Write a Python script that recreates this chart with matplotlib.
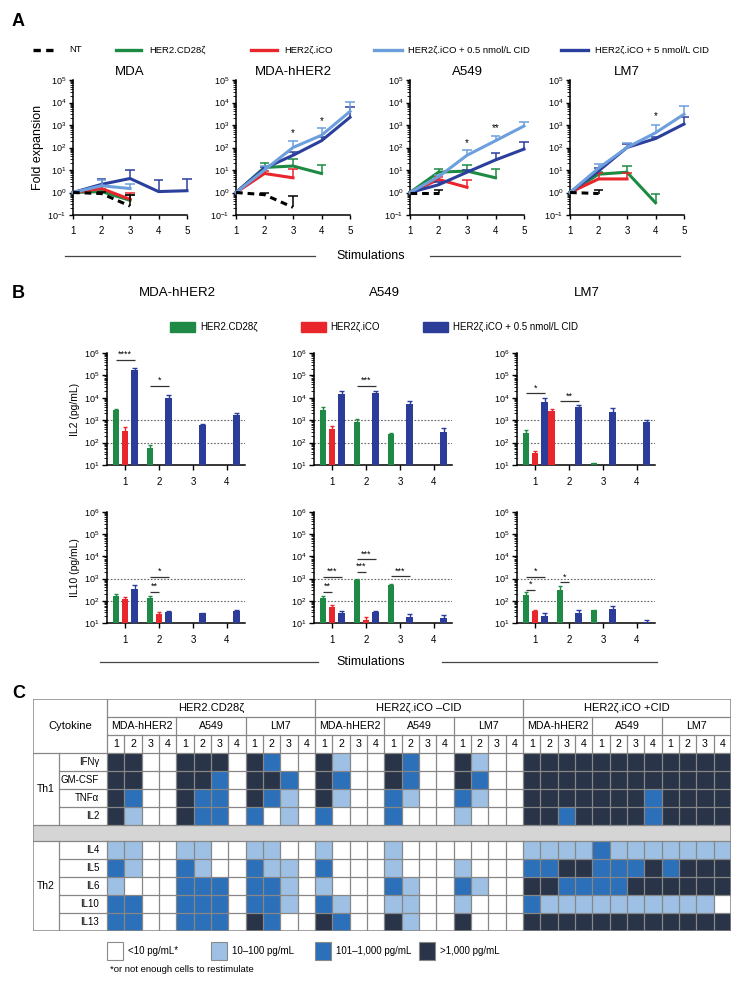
import numpy as np
import matplotlib
matplotlib.use("Agg")
import matplotlib.pyplot as plt
from matplotlib.lines import Line2D
from matplotlib.patches import Rectangle
from matplotlib.ticker import LogLocator, NullFormatter

plt.rcParams['font.family'] = ['Liberation Sans', 'DejaVu Sans']
plt.rcParams['mathtext.fontset'] = 'custom'
plt.rcParams['mathtext.rm'] = 'Liberation Sans'
plt.rcParams['axes.linewidth'] = 1.1

W, H = 742, 984


def fx(px):
    return px / W


def fy(py):
    return 1 - py / H


# ---------------- panel A : fold expansion ----------------
cell_lines_a = ["MDA", "MDA-hHER2", "A549", "LM7"]
series_a = ["NT", "HER2.CD28ζ", "HER2ζ.iCO", "HER2ζ.iCO + 0.5 nmol/L CID", "HER2ζ.iCO + 5 nmol/L CID"]
colors_a = ["black", "#1d8a43", "#e8262b", "#6c9fdc", "#2b3f9c"]

nt_mean = {"MDA": [1, 0.9, 0.25], "MDA-hHER2": [1, 0.8, 0.22], "A549": [1, 1.0], "LM7": [1, 0.9]}
nt_top = {"MDA": [None, 1.1, 0.8], "MDA-hHER2": [None, 1.0, 0.7], "A549": [None, 1.3], "LM7": [None, 1.3]}
cd28_mean = {"MDA": [1, 1.1, 0.45], "MDA-hHER2": [1, 13, 15, 7], "A549": [1, 8, 9, 4.5], "LM7": [1, 6.5, 8, 0.35]}
cd28_top = {"MDA": [None, 1.5, 0.8], "MDA-hHER2": [None, 20, 30, 16], "A549": [None, 11, 17, 11], "LM7": [None, 8, 15, 0.9]}
ico_mean = {"MDA": [1, 1.5, 0.5], "MDA-hHER2": [1, 7, 4.5], "A549": [1, 3.8, 1.7], "LM7": [1, 4, 4]}
ico_top = {"MDA": [None, 2, 1.0], "MDA-hHER2": [None, 9, 11], "A549": [None, 5, 3.5], "LM7": [None, 7, 7]}
cid05_mean = {"MDA": [1, 2, 1.5], "MDA-hHER2": [1, 10, 100, 350, 4000], "A549": [1, 5, 45, 200, 900],
              "LM7": [1, 12, 100, 450, 3000]}
cid05_top = {"MDA": [None, 3.5, 2.5], "MDA-hHER2": [None, 15, 200, 700, 11000], "A549": [None, 6, 75, 330, 1300],
             "LM7": [None, 18, 160, 1000, 7000]}
cid5_mean = {"MDA": [1, 2.3, 4.2, 1.1, 1.2], "MDA-hHER2": [1, 12, 45, 200, 2200], "A549": [1, 2.2, 8, 28, 85],
             "LM7": [1, 9, 100, 250, 1100]}
cid5_top = {"MDA": [None, 4, 10, 3.5, 4], "MDA-hHER2": [None, 14, 60, 280, 6000], "A549": [None, 3, 10, 55, 170],
            "LM7": [None, 12, 150, 300, 2300]}
stars_a = {"MDA": [], "MDA-hHER2": [(3, 250, "*"), (4, 900, "*")], "A549": [(3, 95, "*"), (4, 430, "**")],
           "LM7": [(4, 1500, "*")]}

# ---------------- panel B : cytokines ----------------
cell_lines_b = ["MDA-hHER2", "A549", "LM7"]
series_b = ["HER2.CD28ζ", "HER2ζ.iCO", "HER2ζ.iCO + 0.5 nmol/L CID"]
colors_b = ["#1f8a45", "#e8262b", "#2b3d99"]
stim_b = [1, 2, 3, 4]

il2_cd28 = {"MDA-hHER2": [3000, 55, None, None], "A549": [3000, 850, 250, None], "LM7": [270, None, 12, None]}
il2_cd28_top = {"MDA-hHER2": [3300, 80, None, None], "A549": [4000, 1100, 270, None], "LM7": [370, None, 12.5, None]}
il2_ico = {"MDA-hHER2": [320, None, None, None], "A549": [420, None, None, None], "LM7": [35, None, None, None]}
il2_ico_top = {"MDA-hHER2": [480, None, None, None], "A549": [550, None, None, None], "LM7": [42, None, None, None]}
il2_cid = {"MDA-hHER2": [180000, 10000, 600, 1700], "A549": [15000, 17000, 5500, 300], "LM7": [6500, 3800, 2300, 850]}
il2_cid_top = {"MDA-hHER2": [210000, 13000, 650, 2200], "A549": [20000, 21000, 7000, 450],
               "LM7": [9500, 4800, 3600, 1000]}
lm7_il2_extra_red = [2600, None, None, None]
lm7_il2_extra_red_top = [3200, None, None, None]

il10_cd28 = {"MDA-hHER2": [170, 130, None, None], "A549": [140, 850, 500, None], "LM7": [180, 300, 37, None]}
il10_cd28_top = {"MDA-hHER2": [210, 165, None, None], "A549": [160, 1000, 560, None], "LM7": [240, 450, 38, None]}
il10_ico = {"MDA-hHER2": [115, 25, None, None], "A549": [50, 14, None, None], "LM7": [33, None, None, None]}
il10_ico_top = {"MDA-hHER2": [145, 30, None, None], "A549": [62, 18, None, None], "LM7": [38, None, None, None]}
il10_cid = {"MDA-hHER2": [350, 32, 28, 35], "A549": [28, 30, 18, 16], "LM7": [20, 27, 42, 11]}
il10_cid_top = {"MDA-hHER2": [500, 34, 29, 37], "A549": [35, 35, 25, 22], "LM7": [28, 38, 60, 14]}

# (stimulation, from series, to series, height, label)
il2_sig = {"MDA-hHER2": [(1, 0, 2, 4.9e5, "****"), (2, 0, 2, 3.4e4, "*")],
           "A549": [(2, 0, 2, 3.4e4, "***")],
           "LM7": [(1, 0, 2, 1.6e4, "*"), (2, 0, 2, 7e3, "**")]}
il10_sig = {"MDA-hHER2": [(2, 0, 2, 1.2e3, "*"), (2, 0, 1, 250, "**")],
            "A549": [(1, 0, 2, 1.2e3, "***"), (1, 0, 1, 250, "**"), (2, 0, 2, 7.6e3, "***"),
                     (2, 0, 1, 2000, "***"), (3, 0, 2, 1.3e3, "***")],
            "LM7": [(1, 0, 2, 1.2e3, "*"), (1, 0, 1, 310, "*"), (2, 0, 1, 700, "*")]}

# ---------------- panel C : heat map ----------------
groups_c = ["HER2.CD28ζ", "HER2ζ.iCO –CID", "HER2ζ.iCO +CID"]
targets_c = ["MDA-hHER2", "A549", "LM7"]
cytokines = ["IFNγ", "GM-CSF", "TNFα", "IL2", "IL4", "IL5", "IL6", "IL10", "IL13"]
# 0: <10, 1: 10-100, 2: 101-1000, 3: >1000 ; 12 columns = 3 targets x 4 stimulations
cd28_levels = ["330033303200", "330033203320", "320032203210", "310032202010",
               "110011001100", "210021002110", "100022202210", "220022202210", "220022203200"]
ico_levels = ["310032003100", "320032003200", "310021002100", "200020001000",
              "100010000000", "200010001000", "100021002100", "210011001000", "320031003000"]
cid_levels = ["333333333333", "333333333333", "333333323333", "332333323333",
              "111121111111", "223322232333", "332222333333", "211111111110", "333333333333"]
level_colors = ["white", "#9dc0e4", "#2b70b9", "#2a3448"]
level_labels = ["<10 pg/mL*", "10–100 pg/mL", "101–1,000 pg/mL", ">1,000 pg/mL"]

fig = plt.figure(figsize=(W / 100, H / 100), dpi=100)

# ---------- panel A ----------
a_lefts = [73, 236, 410, 570]
a_means = [nt_mean, cd28_mean, ico_mean, cid05_mean, cid5_mean]
a_tops = [nt_top, cd28_top, ico_top, cid05_top, cid5_top]
draw_order = [1, 2, 4, 3, 0]
for i, cl in enumerate(cell_lines_a):
    ax = fig.add_axes([fx(a_lefts[i]), fy(215), fx(114), 135 / H])
    for s in draw_order:
        m = a_means[s][cl]
        t = a_tops[s][cl]
        x = np.arange(1, len(m) + 1)
        ls = (0, (2.2, 1.6)) if s == 0 else '-'
        ax.plot(x, m, color=colors_a[s], lw=2.2, ls=ls, clip_on=False, zorder=3)
        for xi, mi, ti in zip(x, m, t):
            if ti is None:
                continue
            ax.vlines(xi, mi, ti, color=colors_a[s], lw=1.1, clip_on=False, zorder=3)
            ax.hlines(ti, xi - 0.16, xi + 0.16, color=colors_a[s], lw=1.1, clip_on=False, zorder=3)
    for xs, ys, lab in stars_a[cl]:
        ax.text(xs, ys, lab, ha='center', va='bottom', fontsize=7)
    ax.set_yscale('log')
    ax.set_ylim(0.1, 1e5)
    ax.set_xlim(1, 5)
    ax.set_xticks([1, 2, 3, 4, 5])
    ax.yaxis.set_major_locator(LogLocator(base=10, numticks=10))
    ax.yaxis.set_minor_locator(LogLocator(base=10, subs=np.arange(2, 10), numticks=20))
    ax.yaxis.set_minor_formatter(NullFormatter())
    ax.tick_params(axis='both', labelsize=6.5, length=3, width=1, pad=2)
    ax.tick_params(axis='x', labelsize=7, pad=5)
    ax.tick_params(axis='y', which='minor', length=2, width=0.6)
    ax.spines['top'].set_visible(False)
    ax.spines['right'].set_visible(False)
    fig.text(fx(a_lefts[i] + 57), fy(72), cl, ha='center', va='center', fontsize=9.5)
    if i == 0:
        ax.set_ylabel("Fold expansion", fontsize=9, labelpad=2)

# legend A
leg_x = [(33, 53, 69), (116, 141, 149), (251, 277, 284), (374, 402, 408), (561, 588, 595)]
for s, (x0, x1, xt) in enumerate(leg_x):
    ls = (0, (2.2, 1.6)) if s == 0 else '-'
    fig.add_artist(Line2D([fx(x0), fx(x1)], [fy(50), fy(50)], color=colors_a[s], lw=2.4, ls=ls))
    fig.text(fx(xt), fy(50), series_a[s], fontsize=6.8, va='center', ha='left')

fig.text(fx(12), fy(22), "A", fontsize=13, fontweight='bold', va='center')
fig.text(fx(371), fy(256), "Stimulations", fontsize=9, ha='center', va='center')
fig.add_artist(Line2D([fx(65), fx(315)], [fy(256), fy(256)], color='#444444', lw=0.9))
fig.add_artist(Line2D([fx(430), fx(680)], [fy(256), fy(256)], color='#444444', lw=0.9))

# ---------- panel B ----------
fig.text(fx(12), fy(293), "B", fontsize=13, fontweight='bold', va='center')
b_lefts = [107, 314, 517]
offsets = [-0.27, 0.0, 0.28]
bar_w = 0.19


def draw_bars(ax, cl, vals, tops, sig, ylab):
    for s in range(3):
        v = vals[s][cl]
        t = tops[s][cl]
        for xi, vi, ti in zip(stim_b, v, t):
            if vi is None:
                continue
            xb = xi + offsets[s]
            ax.bar(xb, vi - 10, bottom=10, width=bar_w, color=colors_b[s], zorder=3)
            if ti is not None and ti > vi:
                ax.vlines(xb, vi, ti, color=colors_b[s], lw=1, zorder=3)
                ax.hlines(ti, xb - 0.06, xb + 0.06, color=colors_b[s], lw=1, zorder=3)
    for st, a, b, yv, lab in sig:
        ax.hlines(yv, st + offsets[a], st + offsets[b], color='#333333', lw=0.9)
        ax.text((2 * st + offsets[a] + offsets[b]) / 2, yv * 1.08, lab, ha='center', va='bottom',
                fontsize=6.5)
    ax.axhline(100, color='#666666', lw=0.8, ls=(0, (1.5, 1.5)), zorder=1)
    ax.axhline(1000, color='#666666', lw=0.8, ls=(0, (1.5, 1.5)), zorder=1)
    ax.set_yscale('log')
    ax.set_ylim(10, 1e6)
    ax.set_xlim(0.47, 4.53)
    ax.set_xticks(stim_b)
    ax.yaxis.set_major_locator(LogLocator(base=10, numticks=10))
    ax.yaxis.set_minor_locator(LogLocator(base=10, subs=np.arange(2, 10), numticks=20))
    ax.yaxis.set_minor_formatter(NullFormatter())
    ax.tick_params(axis='both', labelsize=6.5, length=3.5, width=1, pad=2)
    ax.tick_params(axis='x', labelsize=7, pad=5)
    ax.tick_params(axis='y', which='minor', length=2, width=0.6)
    ax.spines['top'].set_visible(False)
    ax.spines['right'].set_visible(False)
    if ylab:
        ax.set_ylabel(ylab, fontsize=7.5, labelpad=3)


for i, cl in enumerate(cell_lines_b):
    ax2 = fig.add_axes([fx(b_lefts[i]), fy(465), fx(138), 112 / H])
    draw_bars(ax2, cl, [il2_cd28, il2_ico, il2_cid], [il2_cd28_top, il2_ico_top, il2_cid_top],
              il2_sig[cl], "IL2 (pg/mL)" if i == 0 else None)
    if cl == "LM7":
        for xi, vi, ti in zip(stim_b, lm7_il2_extra_red, lm7_il2_extra_red_top):
            if vi is None:
                continue
            ax2.bar(xi + 0.49, vi - 10, bottom=10, width=bar_w, color=colors_b[1], zorder=3)
            ax2.vlines(xi + 0.49, vi, ti, color=colors_b[1], lw=1, zorder=3)
            ax2.hlines(ti, xi + 0.43, xi + 0.55, color=colors_b[1], lw=1, zorder=3)
    ax10 = fig.add_axes([fx(b_lefts[i]), fy(623), fx(138), 111 / H])
    draw_bars(ax10, cl, [il10_cd28, il10_ico, il10_cid], [il10_cd28_top, il10_ico_top, il10_cid_top],
              il10_sig[cl], "IL10 (pg/mL)" if i == 0 else None)
    fig.text(fx(b_lefts[i] + 70), fy(293), cl, ha='center', va='center', fontsize=9.5)

leg_b = [(170, 200), (301, 330), (423, 453)]
for s, (x0, xt) in enumerate(leg_b):
    fig.add_artist(Rectangle((fx(x0), fy(332)), fx(25), 10 / H, color=colors_b[s]))
    fig.text(fx(xt), fy(327), series_b[s], fontsize=7, va='center')

fig.text(fx(371), fy(662), "Stimulations", fontsize=9, ha='center', va='center')
fig.add_artist(Line2D([fx(100), fx(318)], [fy(662), fy(662)], color='#444444', lw=0.9))
fig.add_artist(Line2D([fx(442), fx(657)], [fy(662), fy(662)], color='#444444', lw=0.9))

# ---------- panel C ----------
fig.text(fx(12), fy(693), "C", fontsize=13, fontweight='bold', va='center')
w0, w1 = 1.5, 2.77
xl = -(w0 + w1)
band = 0.9
nrows_total = 3 + 4 + band + 5
axc = fig.add_axes([fx(33), fy(931), fx(698), 232 / H])
axc.set_xlim(xl, 36)
axc.set_ylim(nrows_total, 0)
axc.axis('off')


def row_y(r):
    return 3 + r if r < 4 else 3 + band + r


for g, levels in enumerate([cd28_levels, ico_levels, cid_levels]):
    for r, row in enumerate(levels):
        for c, lv in enumerate(row):
            axc.add_patch(Rectangle((g * 12 + c, row_y(r)), 1, 1, fc=level_colors[int(lv)], ec='none'))

axc.add_patch(Rectangle((xl, 7), 36 - xl, band, fc='#d5d5d5', ec='none'))

gc = '#878787'
lw_g = 0.9
for k in range(37):
    y0 = 0 if k % 12 == 0 else (1 if k % 4 == 0 else 2)
    axc.plot([k, k], [y0, 7], color=gc, lw=lw_g)
    axc.plot([k, k], [7 + band, nrows_total], color=gc, lw=lw_g)
for yv in [1, 2]:
    axc.plot([0, 36], [yv, yv], color=gc, lw=lw_g)
for yv in [3, 7, 7 + band]:
    axc.plot([xl, 36], [yv, yv], color=gc, lw=lw_g)
for r in range(9):
    if r in (0, 4):
        continue
    axc.plot([xl + w0, 36], [row_y(r), row_y(r)], color=gc, lw=lw_g)
axc.plot([xl + w0, xl + w0], [3, 7], color=gc, lw=lw_g)
axc.plot([xl + w0, xl + w0], [7 + band, nrows_total], color=gc, lw=lw_g)
axc.plot([xl, 36, 36, xl, xl], [0, 0, nrows_total, nrows_total, 0], color=gc, lw=1.1)

for g, gname in enumerate(groups_c):
    axc.text(g * 12 + 6, 0.5, gname, ha='center', va='center', fontsize=8)
    for t, tname in enumerate(targets_c):
        axc.text(g * 12 + t * 4 + 2, 1.5, tname, ha='center', va='center', fontsize=7.7)
        for n in range(4):
            axc.text(g * 12 + t * 4 + n + 0.5, 2.5, str(n + 1), ha='center', va='center', fontsize=7.7)
axc.text(xl / 2, 1.5, "Cytokine", ha='center', va='center', fontsize=8)
axc.text(xl + w0 / 2, 5, "Th1", ha='center', va='center', fontsize=7.5)
axc.text(xl + w0 / 2, 7 + band + 2.5, "Th2", ha='center', va='center', fontsize=7.5)
for r, cname in enumerate(cytokines):
    axc.text(-0.45, row_y(r) + 0.5, cname, ha='right', va='center', fontsize=7)

leg_c = [107, 211, 315, 419]
for lv, x0 in enumerate(leg_c):
    fig.add_artist(Rectangle((fx(x0), fy(960)), fx(16), 18 / H, fc=level_colors[lv], ec='#8a8a8a', lw=0.8))
    fig.text(fx(x0 + 21), fy(951), level_labels[lv], fontsize=7, va='center')
fig.text(fx(110), fy(970), "*or not enough cells to restimulate", fontsize=6.8, va='center')

fig.savefig("out.png", dpi=100)
